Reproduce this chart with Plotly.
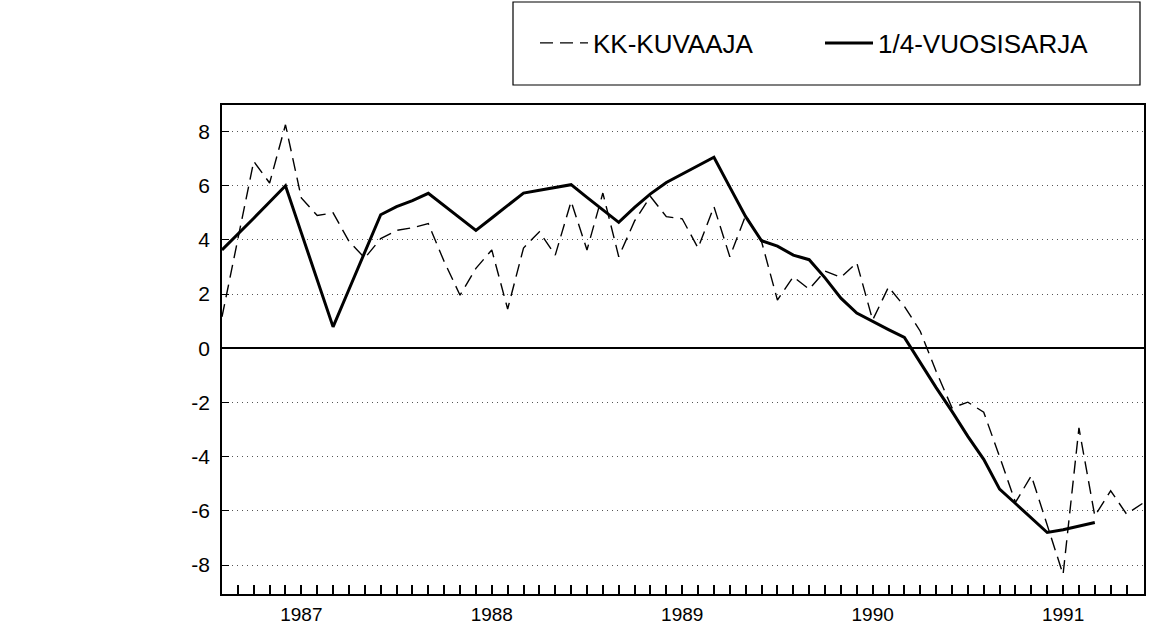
import plotly.graph_objects as go

# ---- data ----
# x = month index along the axis (0 = left edge of the plot)
months_kk = list(range(0, 59))
kk_values = [1.16, 4.0, 6.9, 6.1, 8.25, 5.55, 4.9, 5.0, 3.95, 3.33,
             4.05, 4.35, 4.45, 4.6, 3.2, 1.96, 2.95, 3.63, 1.45, 3.7,
             4.3, 3.44, 5.42, 3.63, 5.73, 3.38, 4.7, 5.6, 4.86, 4.78,
             3.7, 5.23, 3.38, 4.9, 3.94, 1.78, 2.64, 2.18, 2.85, 2.62,
             3.16, 1.04, 2.26, 1.55, 0.63, -0.85, -2.2, -1.99, -2.36, -4.0,
             -5.69, -4.7, -6.5, -8.35, -2.94, -6.19, -5.26, -6.12, -5.73]

months_q = list(range(0, 56))
q_values = [3.63, 4.2, 4.8, 5.4, 6.0, 4.26, 2.53, 0.79, 2.17, 3.55,
            4.93, 5.23, 5.45, 5.72, 5.27, 4.81, 4.35, 4.81, 5.27, 5.73,
            5.83, 5.94, 6.04, 5.57, 5.11, 4.65, 5.2, 5.7, 6.12, 6.43,
            6.74, 7.05, 5.95, 4.86, 3.97, 3.77, 3.44, 3.27, 2.6, 1.85,
            1.3, 0.98, 0.69, 0.4, -0.55, -1.45, -2.33, -3.25, -4.1, -5.2,
            -5.73, -6.27, -6.8, -6.7, -6.56, -6.43]

tick_months = list(range(1, 58))
year_label_months = [5, 17, 29, 41, 53]
year_labels = ["1987", "1988", "1989", "1990", "1991"]
y_ticks = [-8, -6, -4, -2, 0, 2, 4, 6, 8]
y_tick_labels = ["-8", "-6", "-4", "-2", "0", "2", "4", "6", "8"]

series_names = ["KK-KUVAAJA", "1/4-VUOSISARJA"]

# ---- figure ----
ticktext = [year_labels[year_label_months.index(m)] if m in year_label_months else ""
            for m in tick_months]

FONT = "Liberation Sans, Arial, Helvetica, sans-serif"

fig = go.Figure()
fig.add_trace(go.Scatter(
    x=months_kk, y=kk_values, mode="lines", name=series_names[0],
    line=dict(color="black", width=1.4, dash="13px,7px")))
fig.add_trace(go.Scatter(
    x=months_q, y=q_values, mode="lines", name=series_names[1],
    line=dict(color="black", width=3)))

# legend frame
fig.add_shape(type="rect", xref="paper", yref="paper",
              x0=(513 - 222) / 922, x1=(1140 - 222) / 922,
              y0=(594 - 85) / 489, y1=(594 - 2) / 489,
              line=dict(color="black", width=1.2), fillcolor="rgba(0,0,0,0)")

fig.update_layout(
    width=1154, height=628,
    margin=dict(l=222, r=10, t=105, b=34, autoexpand=False),
    paper_bgcolor="white", plot_bgcolor="white",
    font=dict(family=FONT, color="black", size=20),
    showlegend=True,
    legend=dict(orientation="h", x=(535 - 222) / 922, xanchor="left",
                y=(594 - 43) / 489, yanchor="middle",
                font=dict(family=FONT, size=26, color="black"),
                bgcolor="rgba(0,0,0,0)", borderwidth=0,
                entrywidth=222, entrywidthmode="pixels", itemwidth=48),
    xaxis=dict(range=[0, 58.1], tickmode="array", tickvals=tick_months,
               ticktext=ticktext, ticks="inside", ticklen=9, tickwidth=1.5,
               tickcolor="black", showgrid=False, zeroline=False,
               showline=True, linecolor="black", linewidth=1.5, mirror=True,
               tickfont=dict(family=FONT, size=19, color="black"),
               ticklabelstandoff=2, automargin=False),
    yaxis=dict(range=[-9.07, 8.98], tickmode="array", tickvals=y_ticks,
               ticktext=y_tick_labels,
               ticks="inside", ticklen=7, tickwidth=1.2, tickcolor="black",
               showgrid=True, gridcolor="#555", griddash="1px,4px", gridwidth=1.2,
               zeroline=True, zerolinecolor="black", zerolinewidth=1.5,
               showline=True, linecolor="black", linewidth=1.5, mirror=True,
               tickfont=dict(family=FONT, size=21, color="black"),
               ticklabelstandoff=6, automargin=False),
)

fig.write_html("out.html", config={"displayModeBar": False},
               post_script="document.body.style.margin='0';")
